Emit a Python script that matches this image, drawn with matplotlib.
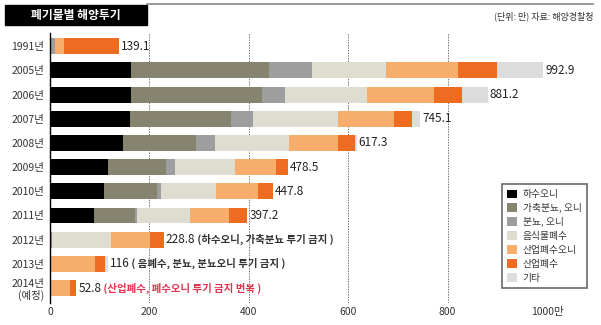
import numpy as np
import matplotlib
matplotlib.use("Agg")
import matplotlib.pyplot as plt
from matplotlib.patches import Rectangle

plt.rcParams['font.family'] = ['Noto Sans CJK KR', 'DejaVu Sans']

# Daten (Einheit: 만)
years = ["1991년", "2005년", "2006년", "2007년", "2008년", "2009년",
         "2010년", "2011년", "2012년", "2013년", "2014년\n(예정)"]
series = ["하수오니", "가축분뇨, 오니", "분뇨, 오니", "음식물폐수",
          "산업폐수오니", "산업폐수", "기타"]
sewage   = [0,   163, 163, 161, 146, 117, 109, 89, 0,   0,  0]
livestock= [0,   278, 263, 204, 148, 117, 107, 82, 0,   0,  0]
excreta  = [10,  86,  46,  44,  38,  18,  7,   4,  5,   0,  0]
food     = [0,   150, 166, 171, 148, 121, 111, 107, 117, 0, 0]
ind_sludge = [19, 144, 134, 112, 100, 82,  84,  79,  80,  90, 40]
ind_waste  = [110.1, 78, 56, 36, 33,  23.5, 29.8, 36.2, 26.8, 21, 12.8]
other    = [0,   93.9, 53.2, 17.1, 4.3, 0,  0,   0,   0,   5,  0]
totals   = ["139.1", "992.9", "881.2", "745.1", "617.3", "478.5",
            "447.8", "397.2", "228.8", "116", "52.8"]
notes    = ["", "", "", "", "", "", "", "", " (하수오니, 가축분뇨 투기 금지 )",
            " ( 음폐수, 분뇨, 분뇨오니 투기 금지 )", ""]
note_2014 = " (산업폐수, 폐수오니 투기 금지 번복 )"

colors = ["#000000", "#86836f", "#9e9e9e", "#dfddd0",
          "#f7ad6b", "#ee6c22", "#dcdcdc"]

fig = plt.figure(figsize=(6.01, 3.25), dpi=100)
ax = fig.add_axes([50 / 601, 22 / 325, 497 / 601, 270 / 325])

y = np.arange(len(years))
data = [sewage, livestock, excreta, food, ind_sludge, ind_waste, other]
left = np.zeros(len(years))
for vals, col, name in zip(data, colors, series):
    vals = np.array(vals, dtype=float)
    ax.barh(y, vals, left=left, height=0.66, color=col, label=name,
            edgecolor="none", zorder=3)
    left += vals

for i in range(len(years)):
    t = ax.text(left[i] + 4, y[i], totals[i], va="center", ha="left",
                fontsize=8.5, color="#222222", zorder=5)
    if notes[i]:
        ax.annotate(notes[i], xycoords=t, xy=(1, 0.5), va="center",
                    ha="left", fontsize=7.5, fontweight="bold",
                    color="#333333")
    if i == len(years) - 1:
        ax.annotate(note_2014, xycoords=t, xy=(1, 0.5), va="center",
                    ha="left", fontsize=7.5, fontweight="bold",
                    color="#e2334f")

ax.set_xlim(0, 1000)
ax.set_ylim(10.62, -0.55)
ax.set_yticks(y)
ax.set_yticklabels(years, fontsize=7.5, color="#333333")
ax.set_xticks([0, 200, 400, 600, 800, 1000])
ax.set_xticklabels(["0", "200", "400", "600", "800", "1000만"],
                   fontsize=7.5, color="#333333")
ax.tick_params(length=0, pad=4)
ax.tick_params(axis="x", pad=3)
for s in ["top", "right", "bottom"]:
    ax.spines[s].set_visible(False)
ax.spines["left"].set_color("black")
ax.spines["left"].set_linewidth(1.0)
ax.spines["left"].set_zorder(6)
for xv in [200, 400, 600, 800, 1000]:
    ax.axvline(xv, color="#777777", linestyle=(0, (1.5, 1.2)),
               linewidth=0.7, zorder=1)

leg = ax.legend(loc="lower left", bbox_to_anchor=(502 / 601, 37 / 325),
                bbox_transform=fig.transFigure, fontsize=7, frameon=True,
                fancybox=False, handlelength=1.0, handleheight=1.0,
                handletextpad=0.6, labelspacing=0.4, borderpad=0.55,
                borderaxespad=0)
leg.get_frame().set_edgecolor("#444444")
leg.get_frame().set_linewidth(1.2)
leg.set_zorder(10)
for txt in leg.get_texts():
    txt.set_color("#333333")

# Titelbox
fig.patches.append(Rectangle((5 / 601, 1 - 25 / 325), 142 / 601, 20 / 325,
                             transform=fig.transFigure, color="black"))
fig.text(76 / 601, 1 - 15 / 325, "폐기물별 해양투기", color="white",
         fontsize=8.5, fontweight="bold", ha="center", va="center")
fig.add_artist(plt.Line2D([147 / 601, 593 / 601], [1 - 4 / 325, 1 - 4 / 325],
                          transform=fig.transFigure, color="#888888",
                          linewidth=1.2))
fig.text(593 / 601, 1 - 16 / 325, "(단위: 만) 자료: 해양경찰청",
         color="#333333", fontsize=6.5, ha="right", va="center")

fig.savefig("out.png", dpi=100)
